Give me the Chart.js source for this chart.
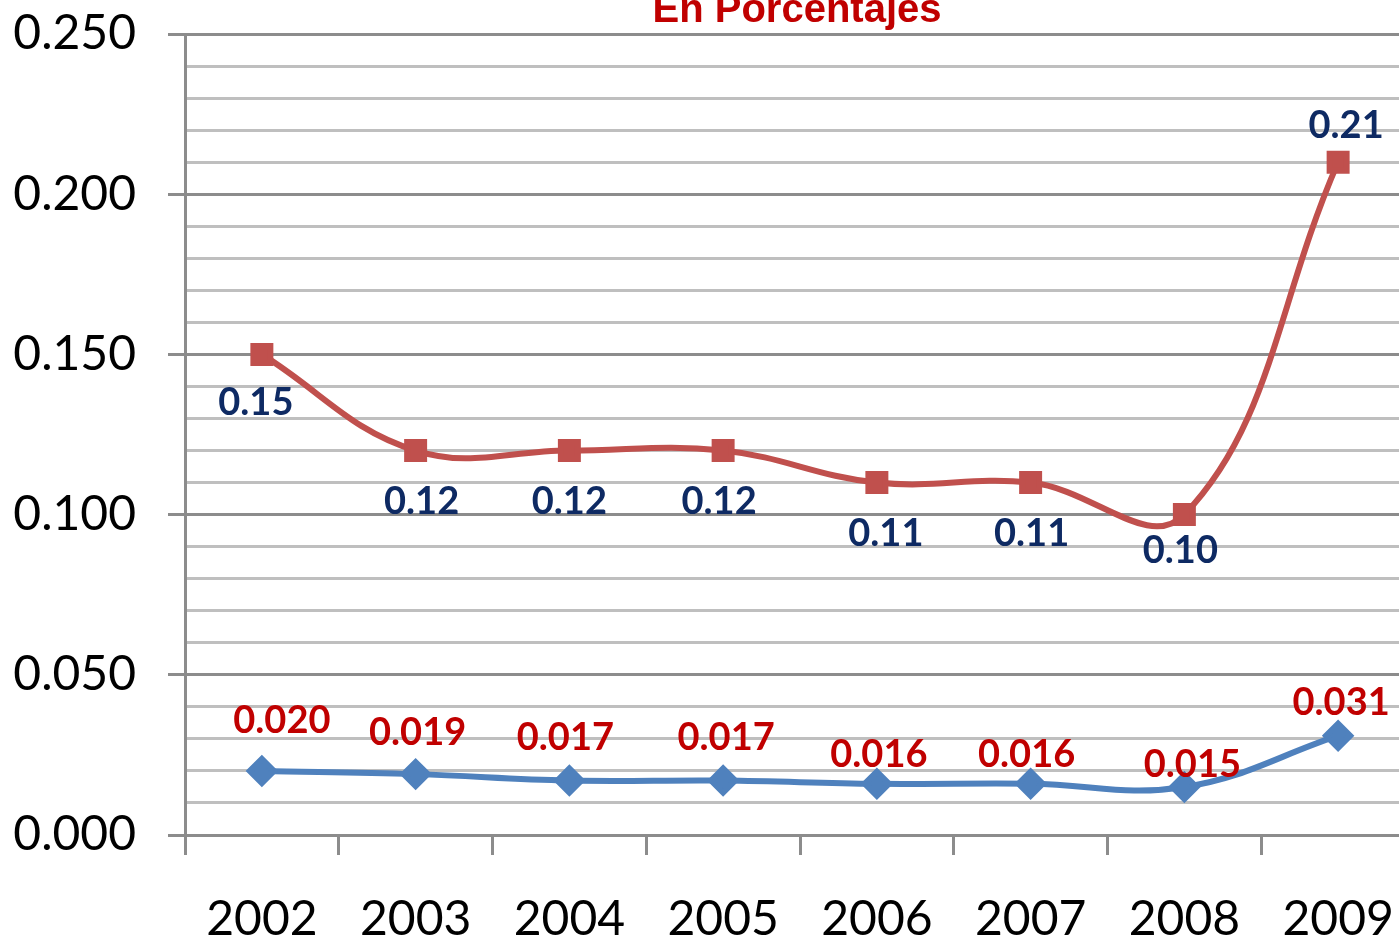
<!DOCTYPE html>
<html>
<head>
<meta charset="utf-8">
<script src="https://cdn.jsdelivr.net/npm/chart.js@4.4.0/dist/chart.umd.min.js"></script>
<style>
  html, body { margin: 0; padding: 0; background: #fff; overflow: hidden; }
  #wrap { width: 1440px; height: 940px; }
</style>
</head>
<body>
<div id="wrap"><canvas id="chart" width="1440" height="940"></canvas></div>
<script>
const years = ['2002', '2003', '2004', '2005', '2006', '2007', '2008', '2009'];
const upperSeries = [0.15, 0.12, 0.12, 0.12, 0.11, 0.11, 0.10, 0.21];
const upperLabels = ['0.15', '0.12', '0.12', '0.12', '0.11', '0.11', '0.10', '0.21'];
const lowerSeries = [0.020, 0.019, 0.017, 0.017, 0.016, 0.016, 0.015, 0.031];
const lowerLabels = ['0.020', '0.019', '0.017', '0.017', '0.016', '0.016', '0.015', '0.031'];
const yTicks = ['0.000', '0.050', '0.100', '0.150', '0.200', '0.250'];

// label offsets (dx, dy from the point)
const upperOffsets = [[-6, 48], [6, 51], [0, 51], [-4, 51], [9, 51], [1, 51], [-4, 36], [8, -36]];
const lowerOffsets = [[20, -50], [2, -41], [-4, -43], [3, -43], [2, -29], [-4, -29], [8, -22], [3, -33]];

const isMajor = v => Math.abs(Math.round(v * 100) % 5) === 0;

const pointLabels = {
    id: 'pointLabels',
    afterDatasetsDraw(chart) {
        const ctx = chart.ctx;
        ctx.save();
        ctx.font = 'bold 38px Lato';
        ctx.textAlign = 'center';
        ctx.textBaseline = 'middle';
        const sets = [
            { meta: chart.getDatasetMeta(0), text: upperLabels, off: upperOffsets, color: '#0E2A63' },
            { meta: chart.getDatasetMeta(1), text: lowerLabels, off: lowerOffsets, color: '#C00000' }
        ];
        sets.forEach(s => {
            ctx.fillStyle = s.color;
            s.meta.data.forEach((pt, i) => {
                ctx.fillText(s.text[i], pt.x + s.off[i][0], pt.y + s.off[i][1]);
            });
        });
        ctx.restore();
    }
};

const topTitle = {
    id: 'topTitle',
    afterDraw(chart) {
        const ctx = chart.ctx;
        ctx.save();
        ctx.font = 'bold 40px "Liberation Sans", Arial';
        ctx.fillStyle = '#C00000';
        ctx.textAlign = 'center';
        ctx.textBaseline = 'alphabetic';
        ctx.fillText('En Porcentajes', 797, 22);
        ctx.restore();
    }
};

new Chart(document.getElementById('chart'), {
    type: 'line',
    data: {
        labels: years,
        datasets: [
            {
                label: 'upper',
                data: upperSeries,
                borderColor: '#C0504D',
                backgroundColor: '#C0504D',
                borderWidth: 6,
                tension: 0.4,
                pointStyle: 'rect',
                pointRadius: 12,
                pointHoverRadius: 12
            },
            {
                label: 'lower',
                data: lowerSeries,
                borderColor: '#4F81BD',
                backgroundColor: '#4F81BD',
                borderWidth: 6,
                tension: 0.4,
                pointStyle: 'rectRot',
                pointRadius: 12,
                pointHoverRadius: 12
            }
        ]
    },
    options: {
        responsive: false,
        animation: false,
        layout: { padding: { top: 34, right: 25, left: 0, bottom: 0 } },
        plugins: {
            legend: { display: false },
            tooltip: { enabled: false }
        },
        scales: {
            x: {
                offset: true,
                grid: {
                    offset: true,
                    drawOnChartArea: false,
                    tickLength: 20,
                    tickColor: '#8C8C8C',
                    tickWidth: 3
                },
                border: { display: false },
                ticks: {
                    color: '#000',
                    font: { family: 'Lato', size: 48 },
                    padding: 36,
                    maxRotation: 0
                },
                afterFit(scale) { scale.height = 105; }
            },
            y: {
                min: 0,
                max: 0.25,
                ticks: {
                    stepSize: 0.01,
                    autoSkip: false,
                    color: '#000',
                    font: { family: 'Lato', size: 48 },
                    padding: 32,
                    callback(v) {
                        return isMajor(v) ? yTicks[Math.round(v * 20)] : '';
                    }
                },
                grid: {
                    color: ctx => isMajor(ctx.tick.value) ? '#8C8C8C' : '#BFBFBF',
                    lineWidth: 3,
                    tickLength: 17,
                    tickColor: ctx => isMajor(ctx.tick.value) ? '#8C8C8C' : 'rgba(0,0,0,0)',
                    tickWidth: 3
                },
                border: { color: '#8C8C8C', width: 3 },
                afterFit(scale) {
                    scale.width = 185;
                    scale.paddingTop = 0;
                    scale.paddingBottom = 0;
                }
            }
        }
    },
    plugins: [pointLabels, topTitle]
});
</script>
</body>
</html>
